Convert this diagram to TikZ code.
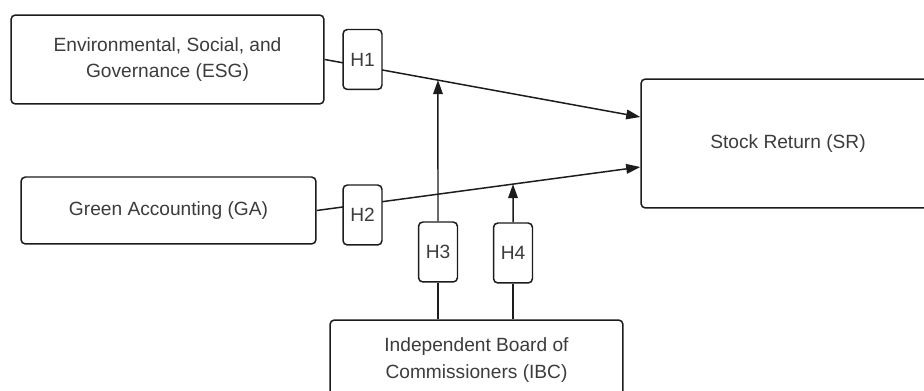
\documentclass[tikz,border=0pt]{standalone}
\usepackage{fontspec}
\setmainfont{Liberation Sans}
\usetikzlibrary{arrows.meta, positioning, calc, backgrounds}
\definecolor{BoxLine}{HTML}{1C1C1C}
\definecolor{BoxText}{HTML}{3C3C3C}

\tikzset{
  varbox/.style={draw=BoxLine, line width=0.85pt, rounded corners=2.5pt, fill=white, text=BoxText,
    align=center, inner sep=0pt, font=\fontsize{10.9}{15}\selectfont},
  hypbox/.style={varbox, minimum width=0.78cm, minimum height=1.2cm},
  link/.style={draw=BoxLine, line width=0.85pt},
  arrowlink/.style={link, -{Triangle[length=8pt,width=5.5pt]}}
}

\begin{document}
\begin{tikzpicture}[x=0.02cm, y=-0.02cm]
    \useasboundingbox (0,0) rectangle (924,391);
    \clip (0,0) rectangle (924,391);
    % Variables
    \node[varbox, minimum width=6.26cm, minimum height=1.78cm] (esg) at (167.5,59.5) {Environmental, Social, and\\Governance (ESG)};
    \node[varbox, minimum width=5.9cm, minimum height=1.34cm] (ga) at (168.5,210.5) {Green Accounting (GA)};
    \node[varbox, minimum width=5.88cm, minimum height=2.58cm] (sr) at (788,143.5) {Stock Return (SR)};
    \node[varbox, minimum width=5.86cm, minimum height=1.6cm] (ibc) at (476.5,360) {Independent Board of\\Commissioners (IBC)};
    % Hypotheses
    \foreach \h/\x/\y in {1/362.5/59.5, 2/362.5/215, 3/438/252, 4/513/253}
        \node[hypbox] (h\h) at (\x,\y) {H\h};
    % Direct effects
    \coordinate (sr1) at ([yshift=0.53cm]sr.west);
    \coordinate (sr2) at ([yshift=-0.47cm]sr.west);
    \begin{scope}[on background layer]
        \draw[arrowlink] (esg.east) -- (sr1);
        \draw[arrowlink] (ga.east) -- (sr2);
    \end{scope}
    % Moderation by IBC
    \coordinate (m1) at (intersection of esg.east--sr1 and h3.south--h3.north);
    \coordinate (m2) at (intersection of ga.east--sr2 and h4.south--h4.north);
    \draw[link] (ibc.north -| h3.south) -- (h3.south);
    \draw[arrowlink] (h3.north) -- (m1);
    \draw[link] (ibc.north -| h4.south) -- (h4.south);
    \draw[arrowlink] (h4.north) -- (m2);
\end{tikzpicture}
\end{document}
